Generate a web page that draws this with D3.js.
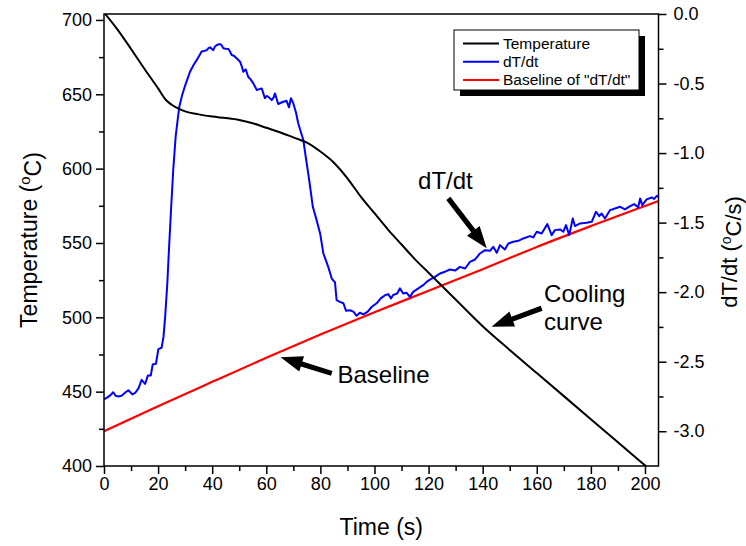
<!DOCTYPE html>
<html>
<head>
<meta charset="utf-8">
<script src="https://cdn.jsdelivr.net/npm/d3@7"></script>
<style>
  html, body { margin: 0; padding: 0; background: #fff; }
  svg { display: block; font-family: "Liberation Sans", Arial, sans-serif; }
</style>
</head>
<body>
<svg id="chart" width="746" height="546"></svg>
<script>
// ---------- data ----------
const tempTime   = [0, 5, 10, 15, 20, 23, 25, 28, 30, 35, 40, 45, 50, 55, 60, 65, 70, 75, 80, 85, 90, 95, 100, 105, 110, 115, 120, 130, 140, 150, 160, 170, 180, 190, 200, 205];
const tempValues = [705, 693.5, 680.5, 667, 654, 646, 643, 640, 638.5, 636.5, 635, 634, 632.7, 630.5, 627.5, 624.5, 621, 617.5, 611.5, 604, 593.5, 581, 570, 559, 549, 539, 530, 512, 494, 478, 462.5, 447, 431.5, 416, 400.5, 393];

const dtTime = [0, 1.0, 2.4, 3.4, 4.3, 5.3, 6.5, 8.0, 9.0, 10.5, 11.5, 12.8, 13.9, 15.2, 16.2, 17.3, 18.0, 19.2, 20.1, 21.3, 22.0, 22.6, 23.4, 24.0, 24.8, 25.6, 26.5, 27.8, 28.8, 29.9, 30.8, 31.8, 33.0, 34.3, 35.2, 36.1, 37.0, 38.0, 38.6, 39.2, 39.8, 40.4, 41.0, 41.7, 42.9, 43.5, 44.1, 45.0, 46.0, 46.6, 47.2, 48.0, 49.1, 50.3, 51.0, 51.5, 52.4, 53.3, 54.2, 55.2, 56.5, 57.4, 58.3, 59.5, 60.1, 60.7, 62.0, 62.7, 63.2, 64.4, 65.2, 66.3, 67.5, 68.4, 69.1, 70.0, 71.0, 71.8, 72.8, 73.7, 74.6, 75.5, 76.4, 77.2, 78.6, 79.9, 81.1, 82.0, 82.9, 84.2, 85.4, 86.0, 87.2, 88.5, 89.5, 90.9, 92.2, 93.4, 94.6, 95.9, 97.5, 99.0, 100.8, 102.3, 103.9, 105.1, 106.1, 106.9, 108.4, 109.4, 110.6, 111.9, 113.1, 114.3, 116.2, 118.0, 119.3, 120.5, 122.4, 124.2, 126.1, 127.9, 129.8, 131.6, 133.5, 135.3, 137.2, 139.0, 140.9, 142.7, 143.9, 145.2, 146.4, 148.2, 149.5, 151.3, 153.2, 155.0, 157.5, 158.7, 160.0, 161.8, 163.9, 165.5, 166.7, 168.6, 169.8, 170.8, 172.0, 173.3, 174.1, 176.0, 178.4, 180.3, 181.9, 183.1, 184.0, 185.2, 187.1, 188.9, 190.8, 192.6, 194.5, 196.0, 197.5, 198.2, 199.0, 200.6, 202.5, 203.4, 204.3, 205];
const dtValues = [-2.77, -2.76, -2.74, -2.72, -2.745, -2.75, -2.745, -2.72, -2.705, -2.735, -2.725, -2.69, -2.63, -2.66, -2.6, -2.6, -2.52, -2.515, -2.41, -2.40, -2.32, -2.18, -1.94, -1.70, -1.40, -1.12, -0.88, -0.67, -0.59, -0.52, -0.47, -0.415, -0.37, -0.33, -0.30, -0.27, -0.265, -0.26, -0.245, -0.24, -0.25, -0.26, -0.235, -0.223, -0.216, -0.225, -0.247, -0.25, -0.252, -0.27, -0.295, -0.30, -0.32, -0.343, -0.38, -0.415, -0.398, -0.451, -0.47, -0.499, -0.547, -0.54, -0.535, -0.606, -0.59, -0.594, -0.619, -0.60, -0.571, -0.647, -0.64, -0.631, -0.624, -0.671, -0.606, -0.643, -0.71, -0.786, -0.85, -0.906, -1.03, -1.146, -1.27, -1.386, -1.482, -1.578, -1.722, -1.77, -1.818, -1.902, -1.93, -2.058, -2.07, -2.08, -2.134, -2.13, -2.14, -2.17, -2.148, -2.16, -2.14, -2.105, -2.08, -2.045, -2.022, -2.014, -2.045, -2.02, -2.01, -1.973, -2.01, -2.005, -2.034, -1.998, -1.973, -1.95, -1.926, -1.91, -1.89, -1.866, -1.853, -1.837, -1.845, -1.818, -1.83, -1.782, -1.765, -1.722, -1.698, -1.703, -1.674, -1.717, -1.662, -1.693, -1.65, -1.638, -1.631, -1.614, -1.597, -1.606, -1.566, -1.578, -1.511, -1.59, -1.554, -1.549, -1.566, -1.518, -1.59, -1.47, -1.525, -1.506, -1.501, -1.494, -1.422, -1.453, -1.434, -1.47, -1.41, -1.398, -1.386, -1.405, -1.381, -1.367, -1.39, -1.326, -1.374, -1.333, -1.319, -1.33, -1.309, -1.31];

const baseTime   = [0, 20, 40, 60, 80, 100, 120, 140, 160, 180, 200, 205];
const baseValues = [-3.0, -2.82, -2.645, -2.472, -2.305, -2.145, -1.99, -1.835, -1.675, -1.525, -1.38, -1.345];

const xTicks      = [0, 20, 40, 60, 80, 100, 120, 140, 160, 180, 200];
const xMinorTicks = [10, 30, 50, 70, 90, 110, 130, 150, 170, 190];
const yLTicks      = [400, 450, 500, 550, 600, 650, 700];
const yLMinorTicks = [425, 475, 525, 575, 625, 675];
const yRTicks      = [0.0, -0.5, -1.0, -1.5, -2.0, -2.5, -3.0];
const yRMinorTicks = [-0.25, -0.75, -1.25, -1.75, -2.25, -2.75];

const legendLabels = ["Temperature", "dT/dt", "Baseline of \"dT/dt\""];
const legendColors = ["#000000", "#0000ff", "#ff0000"];

// annotations in data coordinates (time, temperature)
const annotations = [
  { lines: ["dT/dt"], t: 116.1, T: 586.3, tail: [127.3, 580.0], tip: [141.5, 546.4] },
  { lines: ["Cooling", "curve"], t: 162.7, T: 510.5, tail: [161.8, 506.1], tip: [143.3, 493.7] },
  { lines: ["Baseline"], t: 86.3, T: 455.6, tail: [84.2, 462.3], tip: [65.3, 473.1] }
];

// ---------- layout ----------
const svg = d3.select("#chart");
const L = 104, R = 658.5, T0 = 14, B = 466;

const x  = d3.scaleLinear().domain([0, 205]).range([L, R]);
const yL = d3.scaleLinear().domain([400, 704]).range([B, T0]);
const yR = d3.scaleLinear().domain([-3.25, 0]).range([B, T0]);

svg.append("defs").append("clipPath").attr("id", "plotclip")
  .append("rect").attr("x", L).attr("y", T0).attr("width", R - L).attr("height", B - T0);

const plot = svg.append("g").attr("clip-path", "url(#plotclip)");

// baseline
plot.append("path")
  .datum(baseTime.map((t, i) => [t, baseValues[i]]))
  .attr("fill", "none").attr("stroke", "#ff0000").attr("stroke-width", 2.2)
  .attr("d", d3.line().x(d => x(d[0])).y(d => yR(d[1])).curve(d3.curveMonotoneX));

// dT/dt
plot.append("path")
  .datum(dtTime.map((t, i) => [t, dtValues[i]]))
  .attr("fill", "none").attr("stroke", "#0000ff").attr("stroke-width", 2)
  .attr("stroke-linejoin", "round")
  .attr("d", d3.line().x(d => x(d[0])).y(d => yR(d[1])));

// temperature
plot.append("path")
  .datum(tempTime.map((t, i) => [t, tempValues[i]]))
  .attr("fill", "none").attr("stroke", "#000000").attr("stroke-width", 2)
  .attr("d", d3.line().x(d => x(d[0])).y(d => yL(d[1])).curve(d3.curveMonotoneX));

// ---------- axes ----------
const fontTick = "18px";
function styleAxis(g) {
  g.selectAll(".domain").remove();
  g.selectAll(".tick line").attr("stroke", "#000").attr("stroke-width", 1.5);
  g.selectAll(".tick text").attr("fill", "#000").style("font-size", fontTick)
    .style("font-family", "'Liberation Sans', Arial, sans-serif");
}

const gx = svg.append("g").attr("transform", `translate(0,${B})`)
  .call(d3.axisBottom(x).tickValues(xTicks).tickSize(8).tickPadding(3).tickFormat(d3.format("d")));
styleAxis(gx);
const gxm = svg.append("g").attr("transform", `translate(0,${B})`)
  .call(d3.axisBottom(x).tickValues(xMinorTicks).tickSize(5).tickFormat(""));
styleAxis(gxm);

const gyl = svg.append("g").attr("transform", `translate(${L},0)`)
  .call(d3.axisLeft(yL).tickValues(yLTicks).tickSize(8).tickPadding(4).tickFormat(d3.format("d")));
styleAxis(gyl);
const gylm = svg.append("g").attr("transform", `translate(${L},0)`)
  .call(d3.axisLeft(yL).tickValues(yLMinorTicks).tickSize(5).tickFormat(""));
styleAxis(gylm);

const gyr = svg.append("g").attr("transform", `translate(${R},0)`)
  .call(d3.axisRight(yR).tickValues(yRTicks).tickSize(8).tickPadding(7).tickFormat(d => d.toFixed(1)));
styleAxis(gyr);
const gyrm = svg.append("g").attr("transform", `translate(${R},0)`)
  .call(d3.axisRight(yR).tickValues(yRMinorTicks).tickSize(5).tickFormat(""));
styleAxis(gyrm);

// frame
svg.append("rect").attr("x", L).attr("y", T0).attr("width", R - L).attr("height", B - T0)
  .attr("fill", "none").attr("stroke", "#000").attr("stroke-width", 1.5);

// axis titles
const titleFont = "23px";
svg.append("text").attr("x", (L + R) / 2).attr("y", 535).attr("text-anchor", "middle")
  .style("font-size", titleFont).text("Time (s)");

const tl = svg.append("text").attr("transform", `translate(37,${240}) rotate(-90)`)
  .attr("text-anchor", "middle").style("font-size", titleFont);
tl.append("tspan").text("Temperature (");
tl.append("tspan").attr("dy", "-0.45em").style("font-size", "15px").text("o");
tl.append("tspan").attr("dy", "0.45em").text("C)");

const tr = svg.append("text").attr("transform", `translate(737,${252}) rotate(-90)`)
  .attr("text-anchor", "middle").style("font-size", "22px");
tr.append("tspan").text("dT/dt (");
tr.append("tspan").attr("dy", "-0.45em").style("font-size", "14px").text("o");
tr.append("tspan").attr("dy", "0.45em").text("C/s)");

// ---------- legend ----------
const lg = svg.append("g");
const lx = 454, ly = 30, lw = 185, lh = 60;
lg.append("rect").attr("x", lx + 6).attr("y", ly + 6).attr("width", lw).attr("height", lh).attr("fill", "#000");
lg.append("rect").attr("x", lx).attr("y", ly).attr("width", lw).attr("height", lh)
  .attr("fill", "#fff").attr("stroke", "#000").attr("stroke-width", 1);
legendLabels.forEach((lab, i) => {
  const yy = ly + 13.5 + i * 18.2;
  lg.append("line").attr("x1", lx + 9).attr("x2", lx + 45).attr("y1", yy).attr("y2", yy)
    .attr("stroke", legendColors[i]).attr("stroke-width", 2);
  lg.append("text").attr("x", lx + 49).attr("y", yy + 5.5).style("font-size", "15.5px").text(lab);
});

// ---------- annotations ----------
function arrowPath(x1, y1, x2, y2) {
  const dx = x2 - x1, dy = y2 - y1, len = Math.hypot(dx, dy);
  const ux = dx / len, uy = dy / len, nx = -uy, ny = ux;
  const hl = 22, hw = 8, sw = 2.6;
  const bx = x2 - ux * hl, by = y2 - uy * hl;
  const pts = [
    [x1 + nx * sw, y1 + ny * sw],
    [bx + nx * sw, by + ny * sw],
    [bx + nx * hw, by + ny * hw],
    [x2, y2],
    [bx - nx * hw, by - ny * hw],
    [bx - nx * sw, by - ny * sw],
    [x1 - nx * sw, y1 - ny * sw]
  ];
  return "M" + pts.map(p => p.join(",")).join("L") + "Z";
}
annotations.forEach(a => {
  const t = svg.append("text").attr("x", x(a.t)).attr("y", yL(a.T)).style("font-size", "24px");
  a.lines.forEach((ln, i) => {
    t.append("tspan").attr("x", x(a.t)).attr("dy", i === 0 ? 0 : 28).text(ln);
  });
  svg.append("path")
    .attr("d", arrowPath(x(a.tail[0]), yL(a.tail[1]), x(a.tip[0]), yL(a.tip[1])))
    .attr("fill", "#000");
});
</script>
</body>
</html>
